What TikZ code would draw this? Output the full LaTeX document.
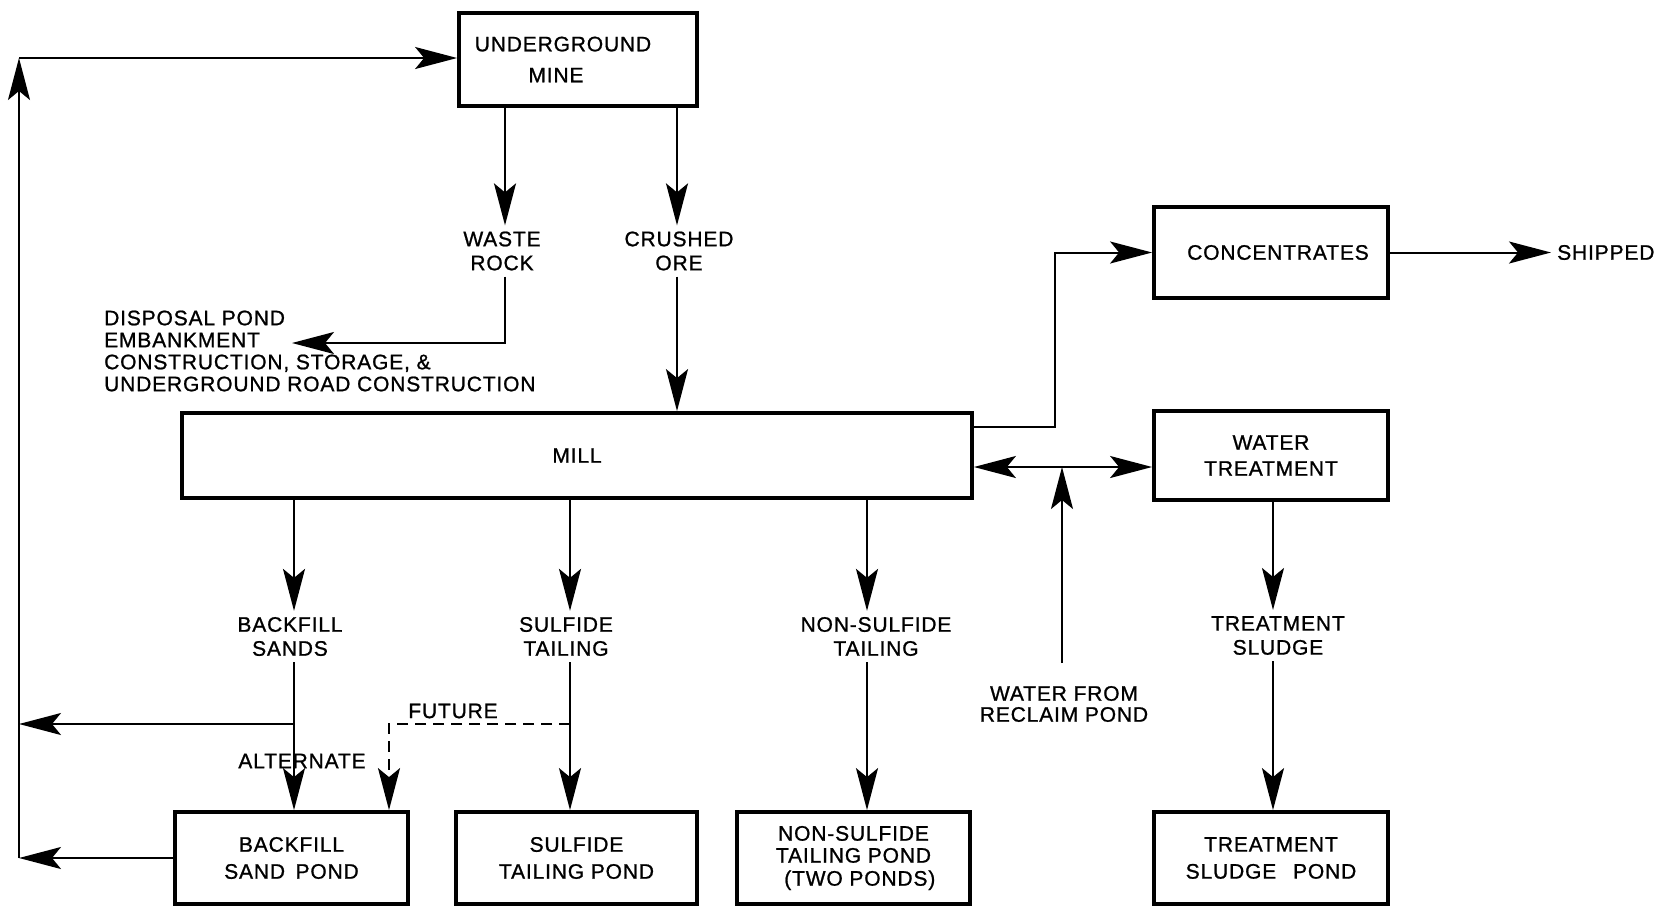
\documentclass[tikz,border=0pt]{standalone}
\usepackage{fontspec}
\setmainfont[LetterSpace=4,FakeBold=1]{Liberation Sans}
\usetikzlibrary{arrows.meta}
\newcommand\dfont{\fontsize{21}{24}\selectfont}
\begin{document}
\begin{tikzpicture}[x=1pt,y=-1pt,
  box/.style={draw,line width=3.8pt,align=center,font=\dfont,inner sep=0pt},
  lbl/.style={align=center,font=\dfont,inner sep=6pt},
  conn/.style={line width=2pt},
  tip/.tip={Stealth[length=42pt,width=22pt,inset=9pt]},
  arr/.style={-tip},
  arrboth/.style={tip-tip},
  fut/.style={dash pattern=on 11pt off 7pt}]
\useasboundingbox (0,0) rectangle (1663,906);

% boxes
\node[box,minimum width=238pt,minimum height=93pt] (mine) at (578,59.5) {UNDERGROUND\hspace*{30pt}\\[7pt]MINE\hspace*{44pt}};
\node[box,minimum width=790pt,minimum height=85pt] (mill) at (577,455.5) {MILL};
\node[box,minimum width=234pt,minimum height=91pt] (conc) at (1271,252.5) {\hspace*{14pt}CONCENTRATES};
\node[box,minimum width=234pt,minimum height=89pt] (wt) at (1271,455.5) {WATER\\[2pt]TREATMENT};
\node[box,minimum width=234pt,minimum height=92pt] (tsp) at (1271,858) {TREATMENT\\[3pt]SLUDGE\hspace{0.8em}POND};
\node[box,minimum width=233pt,minimum height=92pt] (bfp) at (291.5,858) {BACKFILL\\[3pt]SAND\hspace{0.5em}POND};
\node[box,minimum width=241pt,minimum height=92pt] (stp) at (576.5,858) {SULFIDE\\[3pt]TAILING POND};
\node[box,minimum width=233pt,minimum height=92pt] (nsp) at (853.5,858) {NON-SULFIDE\\[-2pt]TAILING POND\\[-1pt]\hspace{0.6em}(TWO PONDS)};

% labels
\node[lbl] (waste) at (502,251) {WASTE\\ROCK};
\node[lbl] (crushed) at (679,251) {CRUSHED\\ORE};
\node[lbl,align=left,anchor=west,inner sep=0pt] (disp) at (104,351) {DISPOSAL POND\\[-2pt]EMBANKMENT\\[-2pt]CONSTRUCTION, STORAGE, \&\\[-2pt]UNDERGROUND ROAD CONSTRUCTION};
\node[lbl,anchor=west] (shipped) at (1551,252.5) {SHIPPED};
\node[lbl] (bfs) at (290,636.5) {BACKFILL\\SANDS};
\node[lbl] (stl) at (566,636.5) {SULFIDE\\TAILING};
\node[lbl] (nst) at (876,636.5) {NON-SULFIDE\\TAILING};
\node[lbl] (tsl) at (1278,635.5) {TREATMENT\\SLUDGE};
\node[lbl,inner sep=2pt] (reclaim) at (1064,704) {WATER FROM\\[-3pt]RECLAIM POND};
\node[lbl,inner sep=2pt] (future) at (453,711) {FUTURE};
\node[lbl,inner sep=2pt] (alt) at (302,761) {ALTERNATE};

% helper coordinates
\coordinate (cW) at (505,0);
\coordinate (cC) at (677,0);
\coordinate (cB) at (294,0);
\coordinate (cS) at (570,0);
\coordinate (cN) at (867,0);
\coordinate (cT) at (1273,0);
\coordinate (cR) at (1062,0);
\coordinate (cL) at (19,0);
\coordinate (cF) at (389,0);
\coordinate (cX) at (1055,0);
\coordinate (yMC) at (0,427);
\coordinate (yW) at (0,467);
\coordinate (yBr) at (0,724);
\coordinate (disptip) at (292,343);
\coordinate (corner) at (19,58);
\coordinate (recbot) at (1062,663);

% mine outputs
\draw[conn,arr] (mine.south -| cW) -- (waste.north -| cW);
\draw[conn,arr] (waste.south -| cW) -- (cW |- disptip) -- (disptip);
\draw[conn,arr] (mine.south -| cC) -- (crushed.north -| cC);
\draw[conn,arr] (crushed.south -| cC) -- (mill.north -| cC);

% mill right side
\draw[conn,arr] (mill.east |- yMC) -- (cX |- yMC) -- (cX |- conc.west) -- (conc.west);
\draw[conn,arr] (conc.east) -- (shipped.west);
\draw[conn,arrboth] (mill.east |- yW) -- (wt.west |- yW);
\draw[conn,arr] (recbot) -- (cR |- yW);
\draw[conn,arr] (wt.south -| cT) -- (tsl.north -| cT);
\draw[conn,arr] (tsl.south -| cT) -- (tsp.north -| cT);

% mill bottom
\draw[conn,arr] (mill.south -| cB) -- (bfs.north -| cB);
\draw[conn,arr] (bfs.south -| cB) -- (bfp.north -| cB);
\draw[conn,arr] (cB |- yBr) -- (cL |- yBr);
\draw[conn,arr] (mill.south -| cS) -- (stl.north -| cS);
\draw[conn,arr] (stl.south -| cS) -- (stp.north -| cS);
\draw[conn,fut,arr] (cS |- yBr) -- (cF |- yBr) -- (bfp.north -| cF);
\draw[conn,arr] (mill.south -| cN) -- (nst.north -| cN);
\draw[conn,arr] (nst.south -| cN) -- (nsp.north -| cN);

% return to mine
\draw[conn,arr] (bfp.west) -- (cL |- bfp.west);
\draw[conn,arr] (cL |- bfp.west) -- (corner);
\draw[conn,arr] (corner) -- (mine.west |- corner);
\end{tikzpicture}
\end{document}
